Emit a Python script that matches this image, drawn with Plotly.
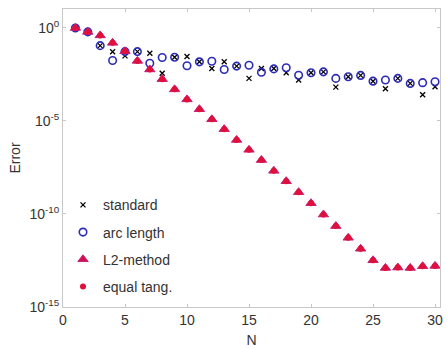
import plotly.graph_objects as go

N = list(range(1, 31))
# log10 of error values
log_standard = [0.0, -0.21, -0.95, -1.28, -1.50, -1.27, -1.36, -2.43, -1.57, -1.53,
                -1.82, -2.18, -1.82, -2.05, -2.71, -2.18, -2.18, -2.41, -2.80, -2.41,
                -2.36, -3.18, -2.62, -2.55, -2.86, -3.27, -2.71, -2.98, -3.59, -3.16]
log_arc = [0.0, -0.21, -0.95, -1.75, -1.27, -1.27, -1.90, -1.59, -1.57, -2.03,
           -1.82, -1.79, -2.23, -2.05, -2.00, -2.38, -2.20, -2.14, -2.54, -2.41,
           -2.36, -2.71, -2.62, -2.55, -2.86, -2.80, -2.71, -2.98, -2.94, -2.89]
log_l2 = [0.0, -0.21, -0.40, -0.80, -1.25, -1.77, -2.23, -2.75, -3.30, -3.84,
          -4.37, -4.91, -5.44, -6.02, -6.55, -7.10, -7.68, -8.24, -8.83, -9.42,
          -10.03, -10.65, -11.28, -11.87, -12.49, -12.90, -12.88, -12.90, -12.81, -12.79]
log_equal = list(log_l2)

standard = [10 ** v for v in log_standard]
arc = [10 ** v for v in log_arc]
l2 = [10 ** v for v in log_l2]
equal = [10 ** v for v in log_equal]

x_ticks = [0, 5, 10, 15, 20, 25, 30]
tick_vals = [1e0, 1e-5, 1e-10, 1e-15]
tick_text = ["10<sup>0</sup>", "10<sup>-5</sup>", "10<sup>-10</sup>", "10<sup>-15</sup>"]

fig = go.Figure()
fig.add_trace(go.Scatter(x=N, y=standard, mode="markers", name="standard", legendgroup="a",
                         marker=dict(symbol="x-thin-open", size=5, color="black",
                                     line=dict(width=1.3, color="black"))))
fig.add_trace(go.Scatter(x=N, y=arc, mode="markers", name="arc length", legendgroup="b",
                         marker=dict(symbol="circle-open", size=7.5, color="#2b2bb8",
                                     line=dict(width=1.6, color="#2b2bb8"))))
fig.add_trace(go.Scatter(x=N, y=l2, mode="markers", name="L2-method", legendgroup="c",
                         marker=dict(symbol="triangle-up", size=9, color="#d0104e",
                                     line=dict(width=1, color="#c8207a"))))
fig.add_trace(go.Scatter(x=N, y=equal, mode="markers", name="equal tang.", legendgroup="d",
                         marker=dict(symbol="circle", size=6, color="#e0103a")))

axis_common = dict(showgrid=False, zeroline=False, showline=True, mirror="ticks",
                   linecolor="#c8c8c8", linewidth=1, ticks="inside", ticklen=3,
                   tickcolor="#c8c8c8", tickfont=dict(size=14, color="#333333"),
                   automargin=False)

fig.update_layout(
    width=447, height=348,
    margin=dict(l=63, r=7, t=9, b=41),
    paper_bgcolor="white", plot_bgcolor="white",
    font=dict(family="Liberation Sans, Arial, sans-serif", size=14, color="#333333"),
    xaxis=dict(range=[0, 30.4], tickvals=x_ticks,
               title=dict(text="N", standoff=11, font=dict(size=14)), **axis_common),
    yaxis=dict(type="log", range=[-15, 1.02], tickvals=tick_vals, ticktext=tick_text,
               title=dict(text="Error", standoff=5, font=dict(size=14)), **axis_common),
    legend=dict(x=0.0, y=0.395, xanchor="left", yanchor="top",
                bgcolor="rgba(0,0,0,0)", font=dict(size=14, color="#333333"),
                tracegroupgap=6, traceorder="grouped", itemsizing="trace"),
    showlegend=True,
)

fig.write_html("out.html", config={"displayModeBar": False},
               post_script="document.body.style.margin='0';")
